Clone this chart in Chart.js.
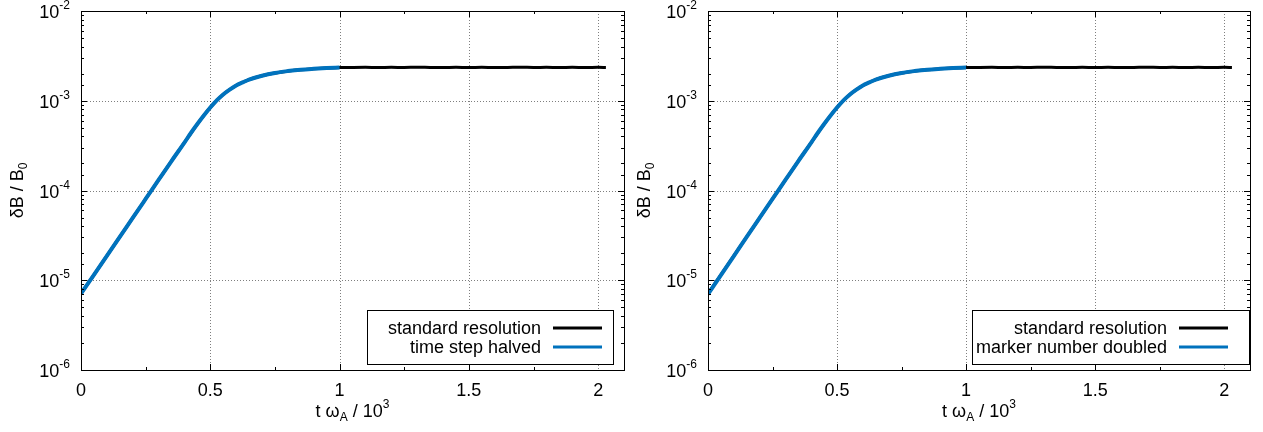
<!DOCTYPE html>
<html><head><meta charset="utf-8">
<script src="https://cdn.jsdelivr.net/npm/chart.js@4/dist/chart.umd.min.js"></script>
<style>
html,body{margin:0;padding:0;background:#fff;}
#wrap{position:relative;width:1263px;height:432px;overflow:hidden;}
canvas{position:absolute;top:0;}
</style></head><body>
<div id="wrap">
<canvas id="c1" width="632" height="432" style="left:0"></canvas>
<canvas id="c2" width="632" height="432" style="left:631px"></canvas>
</div>
<script>
// ---- data ----
const timeGrowth = [0,0.05,0.1,0.15,0.2,0.25,0.3,0.35,0.4,0.425,0.45,0.475,0.5,0.525,0.55,0.575,0.6,0.625,0.65,0.7,0.75,0.8,0.85,0.9,0.95,1.0];
const halvedValues = [7.1e-6,1.15e-5,1.87e-5,3.05e-5,4.95e-5,8.05e-5,1.31e-4,2.13e-4,3.42e-4,4.37e-4,5.5e-4,6.84e-4,8.4e-4,1.01e-3,1.175e-3,1.33e-3,1.48e-3,1.6e-3,1.72e-3,1.9e-3,2.04e-3,2.14e-3,2.22e-3,2.27e-3,2.31e-3,2.34e-3];
const doubledValues = [7.0e-6,1.14e-5,1.86e-5,3.04e-5,4.95e-5,8.05e-5,1.31e-4,2.13e-4,3.42e-4,4.37e-4,5.5e-4,6.84e-4,8.4e-4,1.01e-3,1.175e-3,1.33e-3,1.48e-3,1.6e-3,1.72e-3,1.9e-3,2.04e-3,2.14e-3,2.22e-3,2.27e-3,2.31e-3,2.34e-3];
const timeStandard = [0,0.05,0.1,0.15,0.2,0.25,0.3,0.35,0.4,0.45,0.5,0.55,0.6,0.65,0.7,0.75,0.8,0.85,0.9,0.95,1.0,
  1.05,1.1,1.15,1.2,1.25,1.3,1.35,1.4,1.45,1.5,1.55,1.6,1.65,1.7,1.75,1.8,1.85,1.9,1.95,2.0,2.03];
const standardValues = [7.1e-6,1.15e-5,1.87e-5,3.05e-5,4.95e-5,8.05e-5,1.31e-4,2.13e-4,3.42e-4,5.5e-4,8.4e-4,1.175e-3,1.48e-3,1.72e-3,1.9e-3,2.04e-3,2.14e-3,2.22e-3,2.27e-3,2.31e-3,2.34e-3,
  2.35e-3,2.355e-3,2.345e-3,2.355e-3,2.35e-3,2.36e-3,2.35e-3,2.345e-3,2.355e-3,2.35e-3,2.355e-3,2.345e-3,2.35e-3,2.36e-3,2.35e-3,2.355e-3,2.345e-3,2.355e-3,2.35e-3,2.355e-3,2.35e-3];
const xTickValues = [0,0.5,1,1.5,2];
const xTickLabels = ['0','0.5','1','1.5','2'];
const yTickExponents = [-6,-5,-4,-3,-2];
const standardLabel = 'standard resolution';
const halvedLabel = 'time step halved';
const doubledLabel = 'marker number doubled';

const FONT = '"Liberation Sans", Arial, sans-serif';
const BLUE = '#0072bd';
const FS = 18, FSS = 12;

function pts(xs, ys){ return xs.map((x,i)=>({x:x, y:ys[i]})); }

function drawRich(ctx, parts, x, y, align){
  let w = 0;
  parts.forEach(p=>{ ctx.font = p[1]+'px '+FONT; w += ctx.measureText(p[0]).width; });
  let cx = align==='right' ? x - w : (align==='center' ? x - w/2 : x);
  ctx.textAlign = 'left'; ctx.textBaseline = 'alphabetic';
  parts.forEach(p=>{ ctx.font = p[1]+'px '+FONT; ctx.fillText(p[0], cx, y + p[2]); cx += ctx.measureText(p[0]).width; });
}

const gnuFrame = {
  id: 'gnuFrame',
  beforeDatasetsDraw(chart){
    const ctx = chart.ctx, a = chart.chartArea;
    const xs = chart.scales.x, ys = chart.scales.y;
    ctx.save();
    ctx.strokeStyle = 'rgba(0,0,0,0.5)'; ctx.lineWidth = 1; ctx.setLineDash([1,2]);
    xTickValues.forEach(v=>{
      const px = Math.round(xs.getPixelForValue(v)) + 0.5;
      ctx.beginPath(); ctx.moveTo(px, a.top); ctx.lineTo(px, a.bottom); ctx.stroke();
    });
    yTickExponents.forEach(e=>{
      const py = Math.round(ys.getPixelForValue(Math.pow(10,e))) + 0.5;
      ctx.beginPath(); ctx.moveTo(a.left, py); ctx.lineTo(a.right, py); ctx.stroke();
    });
    ctx.restore();
  },
  afterDatasetsDraw(chart, args, opts){
    const ctx = chart.ctx, a = chart.chartArea;
    const xs = chart.scales.x, ys = chart.scales.y;
    ctx.save();
    ctx.setLineDash([]);
    ctx.strokeStyle = '#000'; ctx.lineWidth = 1;
    xs.ticks.forEach(t=>{
      const q = t.value/0.25;
      if (Math.abs(q - Math.round(q)) > 1e-6) return;
      const major = Math.abs(t.value/0.5 - Math.round(t.value/0.5)) < 1e-6;
      const len = major ? 6 : 3;
      const px = Math.round(xs.getPixelForValue(t.value)) + 0.5;
      ctx.beginPath();
      ctx.moveTo(px, a.bottom); ctx.lineTo(px, a.bottom - len);
      ctx.moveTo(px, a.top); ctx.lineTo(px, a.top + len);
      ctx.stroke();
    });
    ys.ticks.forEach(t=>{
      const l = Math.log10(t.value);
      const major = Math.abs(l - Math.round(l)) < 1e-6;
      const len = major ? 6 : 3;
      const py = Math.round(ys.getPixelForValue(t.value)) + 0.5;
      ctx.beginPath();
      ctx.moveTo(a.left, py); ctx.lineTo(a.left + len, py);
      ctx.moveTo(a.right, py); ctx.lineTo(a.right - len, py);
      ctx.stroke();
    });
    ctx.strokeRect(Math.round(a.left)+0.5, Math.round(a.top)+0.5, Math.round(a.right-a.left), Math.round(a.bottom-a.top));
    ctx.fillStyle = '#000';
    xTickValues.forEach((v,i)=>{
      drawRich(ctx, [[xTickLabels[i],FS,0]], xs.getPixelForValue(v), a.bottom + 26, 'center');
    });
    yTickExponents.forEach(e=>{
      const py = ys.getPixelForValue(Math.pow(10,e));
      drawRich(ctx, [['10',FS,0],[String(e),FSS,-9]], a.left - 11, py + 7, 'right');
    });
    drawRich(ctx, [['t \u03c9',FS,0],['A',FSS,4],[' / 10',FS,0],['3',FSS,-9]], (a.left+a.right)/2, 417, 'center');
    ctx.save();
    ctx.translate(opts.yTitleX, (a.top+a.bottom)/2);
    ctx.rotate(-Math.PI/2);
    drawRich(ctx, [['\u03b4B / B',FS,0],['0',FSS,4]], 0, 6, 'center');
    ctx.restore();
    const L = opts.legend;
    const bx = a.right - L.boxLeft, bw = L.boxLeft - L.boxRight;
    const by = a.bottom - 60, bh = 54;
    ctx.fillStyle = '#fff';
    ctx.fillRect(bx, by, bw, bh);
    ctx.strokeStyle = '#000'; ctx.lineWidth = 1;
    ctx.strokeRect(Math.round(bx)+0.5, Math.round(by)+0.5, Math.round(bw), bh);
    const rows = [a.bottom - 42, a.bottom - 23];
    chart.data.datasets.forEach((ds,i)=>{
      ctx.fillStyle = '#000';
      drawRich(ctx, [[ds.label,FS,0]], a.right - 83, rows[i] + 6, 'right');
      ctx.strokeStyle = ds.borderColor; ctx.lineWidth = 3;
      ctx.beginPath(); ctx.moveTo(a.right - 71, rows[i]); ctx.lineTo(a.right - 22, rows[i]); ctx.stroke();
    });
    ctx.restore();
  }
};

function makeChart(id, blueLabel, blueValues, rightPad, yWidth, yTitleX, legend){
  return new Chart(document.getElementById(id), {
    type: 'line',
    data: {
      datasets: [
        { label: standardLabel, data: pts(timeStandard, standardValues), borderColor: '#000', borderWidth: 3, pointRadius: 0, order: 1, cubicInterpolationMode: 'monotone' },
        { label: blueLabel, data: pts(timeGrowth, blueValues), borderColor: BLUE, borderWidth: 4, pointRadius: 0, order: 0, cubicInterpolationMode: 'monotone' }
      ]
    },
    options: {
      responsive: false, animation: false, devicePixelRatio: 1,
      layout: { padding: { left: 0, right: rightPad, top: 11, bottom: 0 } },
      plugins: { legend: { display: false }, tooltip: { enabled: false }, gnuFrame: { yTitleX: yTitleX, legend: legend } },
      scales: {
        x: { type: 'linear', min: 0, max: 2.1, ticks: { display: false, stepSize: 0.25 }, grid: { display: false }, border: { display: false },
             afterFit(s){ s.height = 62; } },
        y: { type: 'logarithmic', min: 1e-6, max: 1e-2, ticks: { display: false }, grid: { display: false }, border: { display: false },
             afterFit(s){ s.width = yWidth; } }
      }
    },
    plugins: [gnuFrame]
  });
}

makeChart('c1', halvedLabel, halvedValues, 8, 81, 17, { boxLeft: 257, boxRight: 11 });
makeChart('c2', doubledLabel, doubledValues, 13, 77, 13, { boxLeft: 278, boxRight: 1 });
</script>
</body></html>
